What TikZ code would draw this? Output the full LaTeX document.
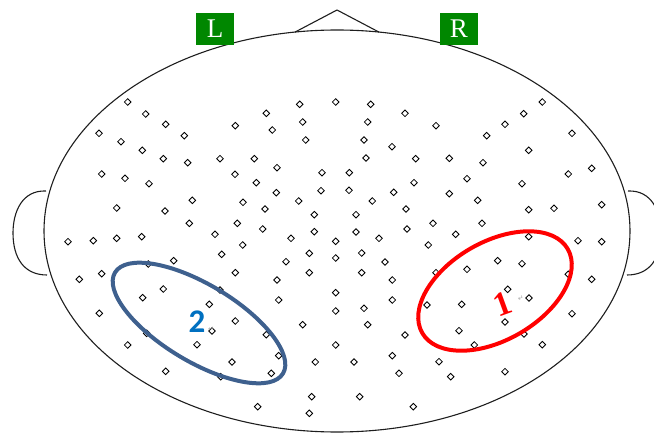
\documentclass[tikz,border=0pt]{standalone}
\usepackage{fontspec}
\usetikzlibrary{shapes.geometric}
\newfontfamily\serifface{Liberation Serif}
\newfontfamily\labelface{Carlito}
\newfontfamily\symface{DejaVu Sans}
\definecolor{boxgreen}{RGB}{0,135,0}
\definecolor{regionblue}{RGB}{62,96,142}
\definecolor{digitblue}{RGB}{0,112,192}
\definecolor{regionred}{RGB}{255,0,0}
\definecolor{headline}{RGB}{30,30,30}
\tikzset{
  elec/.style={diamond, draw=black, fill=white, line width=0.85pt, inner sep=0pt,
    minimum width=7pt, minimum height=7pt},
  headstroke/.style={draw=headline, line width=1.1pt},
  sidebox/.style={fill=boxgreen, text=white, minimum width=38pt, minimum height=32pt,
    inner sep=0pt, font=\serifface\fontsize{27}{27}\selectfont},
  regionA/.style={draw=regionred, line width=4pt},
  regionB/.style={draw=regionblue, line width=4pt},
  retmark/.style={text=gray!70, inner sep=0pt, font=\symface\fontsize{7}{7}\selectfont}
}
\begin{document}
\begin{tikzpicture}[x=1pt, y=-1pt]
\useasboundingbox (0,0) rectangle (654,433);
\clip (0,0) rectangle (654,433);

% head outline, nose and ears
\draw[headstroke] (337,231) ellipse [x radius=293, y radius=201];
\draw[headstroke] (295,32.1) -- (337,10) -- (379,32.1);
\draw[headstroke] (46,191) .. controls (22,190) and (13,212) .. (13,233)
                           .. controls (13,258) and (24,275) .. (47,275);
\draw[headstroke] (628,191) .. controls (652,190) and (661,212) .. (661,233)
                            .. controls (661,258) and (650,275) .. (627,275);

% electrode positions
\foreach \p [count=\i] in {
 (127.7,102),(145.7,114),(165.7,124.3),(184.3,135.7),(99,133.3),(121,141.7),
 (142.3,150.3),(163.3,158.7),(187.7,162.7),(101.7,174),(125,178.3),(149,183.7),
 (116.7,208),(165,211),(192.3,200.3),(189.3,223.3),(68,241.7),(93.3,240.7),
 (116.7,238.3),(141.7,236.7),(215,234.3),(242.7,245),(235.3,125.7),(266.3,113.3),
 (299.7,104.3),(302.7,122),(272.3,130),(305.7,140),(220,158.7),(254.3,158.7),
 (277,167.7),(322,172.7),(235,174.3),(256.3,182.7),(276.3,192.7),(321,190.7),
 (243,202.3),(265,209),(298.7,201),(314.3,214.7),(237.3,223.3),(262.7,229),
 (291,238.3),(314.3,231.7),
 (335.7,102),(370.7,104.3),(405,113.3),(367.7,122),(436,125.7),(364,140),
 (392,146.7),(366,158),(415.7,158.7),(449.3,158.3),(483,162.7),(349.3,172.7),
 (349,190.3),(414,182.7),(467,178.7),(372.3,201),(393.7,192.3),(449.3,193.7),
 (477.7,200.3),(356,214.7),(406,209),(356,232),(407,229),(433,223.3),
 (482,223.3),(335.7,241.3),(379,238.3),(428.3,245),(455.7,234.3),(528.7,236.7),
 (578,240.7),(601.7,241.7),(486.7,135.7),(505,124.3),(523.7,113.7),(542.3,102),
 (572,133.3),(528.7,150.3),(568.3,174),(591.7,168.3),(522,183.7),(528.7,209.7),
 (554,208.3),(601.7,204.7),
 (221.7,254.3),(173.7,260.7),(148.3,264),(309.3,253.3),(286,261.7),(79.3,279.3),
 (101.7,273.7),(235.3,272.7),(277,280),(309.3,272.7),(163.3,289),(142.7,297.7),
 (220,290),(209.3,304.3),(278.7,300),(99.3,313.3),(235.3,321),(212,331),
 (146.7,333.3),(266.3,334.7),(302.7,324.7),(127.7,345),(197,344.7),(278.7,355.7),
 (315.3,362),(232,362),(165.7,371.3),(271.3,373.3),(220.7,376.7),(311.7,396.7),
 (257.7,406.7),(309.3,413.3),
 (335.7,258),(361.7,253),(385,262),(436,272.7),(467,269.3),(497.7,260.7),
 (522,263.7),(568.3,274.3),(591.7,279.3),(361.7,272.7),(392.3,280),(335.7,292.7),
 (392.3,300),(427,305),(461.7,304.3),(507.7,289.3),(529,298),(335.7,311),
 (364,308.3),(367.7,324.7),(405,335),(459,330.7),(505,322),(524,334),
 (572,313.7),(335.7,345),(474.3,345),(542.3,344.7),(354,362),(392.3,355.7),
 (439,361.7),(399,373.3),(450.7,376.7),(505,371.7),(359.7,396.7),(413.3,406.7)}
  \node[elec] (e\i) at \p {};

% highlighted regions
\draw[regionB, rotate around={-31:(199,323)}] (199,323) ellipse [x radius=98pt, y radius=38.5pt];
\draw[regionA, rotate around={30:(495,291)}] (495,291) ellipse [x radius=84pt, y radius=49pt];

% region labels
\node[text=digitblue, inner sep=0pt, font=\labelface\bfseries\fontsize{33}{33}\selectfont]
  (lab2) at (197,321.5) {2};
\node[retmark] (ret2) at (211,329) {↵};
\node[text=regionred, inner sep=0pt, rotate=20,
  font=\serifface\bfseries\fontsize{34}{34}\selectfont] (lab1) at (503,304) {1};
\node[retmark, rotate=20] (ret1) at (521,298) {↵};

% hemisphere markers
\node[sidebox] (lside) at (215,29) {L};
\node[sidebox] (rside) at (459,29) {R};
\end{tikzpicture}
\end{document}
